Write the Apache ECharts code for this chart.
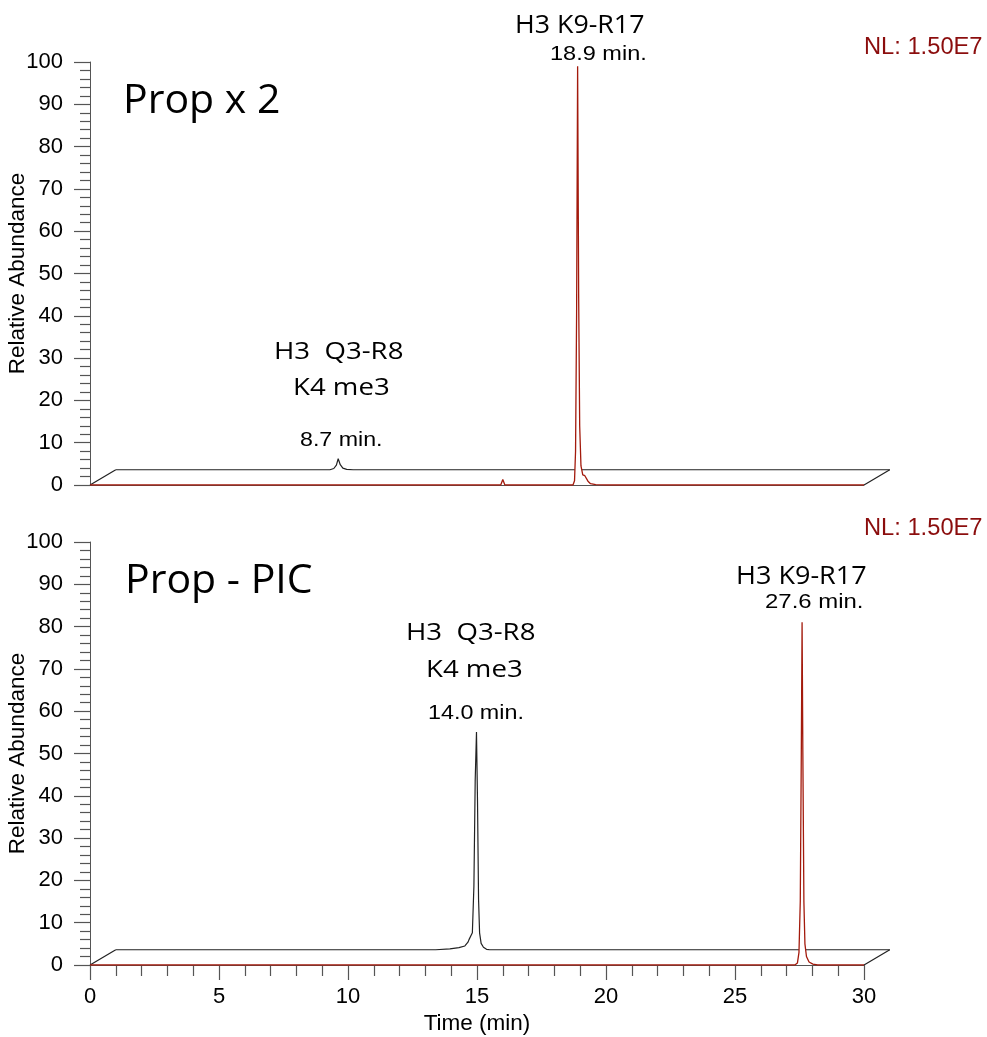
<!DOCTYPE html>
<html>
<head>
<meta charset="utf-8">
<script src="https://cdn.jsdelivr.net/npm/echarts@6/dist/echarts.min.js"></script>
<style>
  html, body { margin: 0; padding: 0; background: #fff; }
  #chart { width: 987px; height: 1037px; }
</style>
</head>
<body>
<div id="chart"></div>
<script>
// ---------------- DATA (time in min, relative abundance in %) ----------------
// Panel 1: "Prop x 2"
const propX2Front = [ // red trace (front)
  [0,0],[15.92,0],[16.0,1.3],[16.08,0],[18.72,0],[18.78,1],[18.82,8],[18.86,40],[18.9,99],
  [18.94,45],[18.98,14],[19.03,4.5],[19.1,2.4],[19.18,2.2],[19.24,1.9],[19.3,0.9],[19.4,0.3],
  [19.6,0.1],[20.0,0],[30,0]
];
const propX2Back = [ // black trace (back)
  [0,0],[8.3,0],[8.45,0.3],[8.55,1.1],[8.62,2.6],[8.7,1.2],[8.8,0.4],[8.95,0.1],[9.2,0],[30,0]
];
// Panel 2: "Prop - PIC"
const propPicFront = [ // red trace (front)
  [0,0],[27.32,0],[27.42,0.5],[27.48,3],[27.53,15],[27.57,50],[27.6,81],[27.63,50],[27.67,15],
  [27.71,5],[27.77,2],[27.87,0.7],[28.02,0.2],[28.2,0],[30,0]
];
const propPicBack = [ // black trace (back)
  [0,0],[12.4,0],[12.95,0.2],[13.3,0.5],[13.53,0.9],[13.65,1.8],[13.69,2.4],[13.75,2.1],[13.82,4],
  [13.88,15],[13.93,40],[13.98,51.5],[14.02,35],[14.06,12],[14.1,4],[14.16,1.5],[14.25,0.6],
  [14.37,0.1],[14.5,0],[30,0]
];
const panelTitles = ['Prop x 2', 'Prop - PIC'];
const nlLabels = ['NL: 1.50E7', 'NL: 1.50E7'];
const peakNames = ['H3 K9-R17', 'H3  Q3-R8', 'K4 me3'];
const peakTimesTop = ['18.9 min.', '8.7 min.'];
const peakTimesBottom = ['27.6 min.', '14.0 min.'];

// ---------------- STYLE ----------------
const T_MAX = 30;
const DEPTH_T = 1.0;   // 3D depth offset along time axis
const DEPTH_A = 3.6;   // 3D depth offset along abundance axis
const RED = '#a31a0c';
const BLACK = '#222';
const AXIS = '#555';
const ARIAL = '"Liberation Sans", Arial, sans-serif';
const CALIBRI = '"Open Sans", sans-serif';
const PLOT_W = 774, PLOT_H = 423, PLOT_L = 90;
const TOPS = [62, 542];

const chart = echarts.init(document.getElementById('chart'), null, { renderer: 'canvas' });

const grids = [
  { left: PLOT_L, top: TOPS[0], width: PLOT_W, height: PLOT_H, outerBoundsMode: 'none', containLabel: false },
  { left: PLOT_L, top: TOPS[1], width: PLOT_W, height: PLOT_H, outerBoundsMode: 'none', containLabel: false },
  // overlay grids (same scale, extended by the depth offset) for the back traces
  { left: PLOT_L, top: TOPS[0], width: PLOT_W * (T_MAX + DEPTH_T) / T_MAX, height: PLOT_H, outerBoundsMode: 'none', containLabel: false },
  { left: PLOT_L, top: TOPS[1], width: PLOT_W * (T_MAX + DEPTH_T) / T_MAX, height: PLOT_H, outerBoundsMode: 'none', containLabel: false }
];

function xAxisFor(i, bottom) {
  return {
    type: 'value', gridIndex: i, min: 0, max: T_MAX, interval: 5,
    axisLine: { show: true, lineStyle: { color: AXIS, width: 1 } },
    axisTick: { show: bottom, length: 15, lineStyle: { color: AXIS, width: 1.2 } },
    minorTick: { show: bottom, splitNumber: 5, length: 11, lineStyle: { color: AXIS, width: 1.2 } },
    axisLabel: { show: bottom, margin: 21, fontSize: 22, color: '#000', fontFamily: ARIAL },
    splitLine: { show: false },
    name: bottom ? 'Time (min)' : '',
    nameLocation: 'middle', nameGap: 47, nameMoveOverlap: false,
    nameTextStyle: { fontSize: 22.5, color: '#000', fontFamily: ARIAL }
  };
}
function yAxisFor(i) {
  return {
    type: 'value', gridIndex: i, min: 0, max: 100, interval: 10,
    axisLine: { show: true, lineStyle: { color: AXIS, width: 1 } },
    axisTick: { show: true, length: 16, lineStyle: { color: AXIS, width: 1.2 } },
    minorTick: { show: true, splitNumber: 5, length: 10, lineStyle: { color: AXIS, width: 1.2 } },
    axisLabel: { margin: 27, fontSize: 22, color: '#000', fontFamily: ARIAL },
    splitLine: { show: false },
    name: 'Relative Abundance', nameLocation: 'middle', nameGap: 61, nameMoveOverlap: false,
    nameTextStyle: { fontSize: 22.5, color: '#000', fontFamily: ARIAL }
  };
}
function hiddenX(i) {
  return { type: 'value', gridIndex: i, min: 0, max: T_MAX + DEPTH_T, show: false, splitLine: { show: false } };
}
function hiddenY(i) {
  return { type: 'value', gridIndex: i, min: 0, max: 100, show: false, splitLine: { show: false } };
}

function panelSeries(i, front, back) {
  const shift = p => [p[0] + DEPTH_T, p[1] + DEPTH_A];
  const o = i + 2; // overlay axes index
  const common = { type: 'line', showSymbol: false, symbol: 'none', animation: false, silent: true };
  return [
    Object.assign({}, common, { name: 'back' + i, xAxisIndex: o, yAxisIndex: o, data: back.map(shift), z: 2,
      lineStyle: { color: BLACK, width: 1.2 } }),
    Object.assign({}, common, { name: 'edgeL' + i, xAxisIndex: o, yAxisIndex: o, data: [[0, 0], [DEPTH_T, DEPTH_A]], z: 2,
      lineStyle: { color: BLACK, width: 1.2 } }),
    Object.assign({}, common, { name: 'edgeR' + i, xAxisIndex: o, yAxisIndex: o, data: [[T_MAX, 0], [T_MAX + DEPTH_T, DEPTH_A]], z: 2,
      lineStyle: { color: BLACK, width: 1.2 } }),
    Object.assign({}, common, { name: 'front' + i, xAxisIndex: i, yAxisIndex: i, data: front, z: 3,
      lineStyle: { color: RED, width: 1.3 },
      areaStyle: { color: '#fff', opacity: 1 } })
  ];
}

function txt(text, left, cy, size, family, scaleX, color) {
  return {
    type: 'text', x: left, y: cy, scaleX: scaleX || 1, scaleY: 1, z: 10,
    style: { text: text, font: size + 'px ' + family, fill: color || '#000',
             textAlign: 'left', textVerticalAlign: 'middle', align: 'left', verticalAlign: 'middle' }
  };
}

const graphics = [
  // top panel
  txt(panelTitles[0], 123, 101, 41, CALIBRI, 1),
  txt(peakNames[0], 515, 26, 25.5, CALIBRI, 1.05),
  txt(peakTimesTop[0], 550, 54, 21, ARIAL, 1.12),
  txt(nlLabels[0], 864, 48, 23, ARIAL, 1.03, '#8b0d0d'),
  txt(peakNames[1], 274, 352, 23.4, CALIBRI, 1.18),
  txt(peakNames[2], 293, 388, 23.4, CALIBRI, 1.18),
  txt(peakTimesTop[1], 300, 440, 20, ARIAL, 1.16),
  // bottom panel
  txt(panelTitles[1], 125, 581, 41, CALIBRI, 1),
  txt(nlLabels[1], 864, 529, 23, ARIAL, 1.03, '#8b0d0d'),
  txt(peakNames[0], 736, 577, 25.5, CALIBRI, 1.06),
  txt(peakTimesBottom[0], 765, 602, 21, ARIAL, 1.14),
  txt(peakNames[1], 406, 633, 23.4, CALIBRI, 1.18),
  txt(peakNames[2], 426, 670, 23.4, CALIBRI, 1.18),
  txt(peakTimesBottom[1], 428, 713, 21, ARIAL, 1.11)
];

chart.setOption({
  animation: false,
  backgroundColor: '#fff',
  grid: grids,
  xAxis: [xAxisFor(0, false), xAxisFor(1, true), hiddenX(2), hiddenX(3)],
  yAxis: [yAxisFor(0), yAxisFor(1), hiddenY(2), hiddenY(3)],
  series: panelSeries(0, propX2Front, propX2Back).concat(panelSeries(1, propPicFront, propPicBack)),
  graphic: graphics
});
</script>
</body>
</html>
